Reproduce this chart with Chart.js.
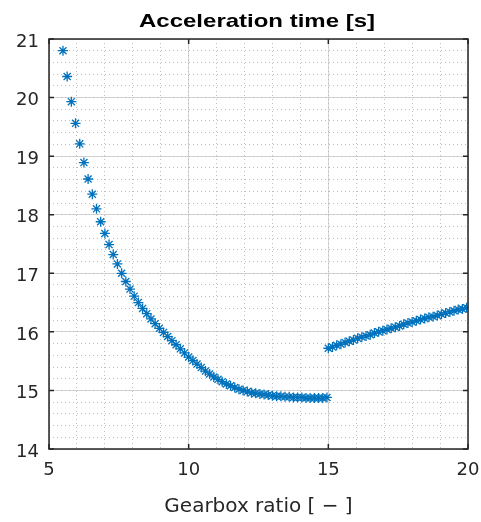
<!DOCTYPE html>
<html>
<head>
<meta charset="utf-8">
<script src="https://cdn.jsdelivr.net/npm/chart.js@4.4.1/dist/chart.umd.min.js"></script>
<style>
	body { margin: 0; background: #fff; }
</style>
</head>
<body>
<canvas id="accelChart" width="481" height="522"></canvas>
<script>
// gearbox ratio below 15
var ratioLow = [5.5, 5.65, 5.8, 5.95, 6.1, 6.25, 6.4, 6.55, 6.7, 6.85,
	7, 7.15, 7.3, 7.45, 7.6, 7.75, 7.9, 8.05, 8.2, 8.35,
	8.5, 8.65, 8.8, 8.95, 9.1, 9.25, 9.4, 9.55, 9.7, 9.85,
	10, 10.15, 10.3, 10.45, 10.6, 10.75, 10.9, 11.05, 11.2, 11.35,
	11.5, 11.65, 11.8, 11.95, 12.1, 12.25, 12.4, 12.55, 12.7, 12.85,
	13, 13.15, 13.3, 13.45, 13.6, 13.75, 13.9, 14.05, 14.2, 14.35,
	14.5, 14.65, 14.8, 14.95];
var timeLow = [20.80, 20.36, 19.93, 19.56, 19.21, 18.89, 18.61, 18.35, 18.10, 17.88,
	17.68, 17.49, 17.32, 17.16, 17.00, 16.86, 16.73, 16.61, 16.50, 16.40,
	16.31, 16.22, 16.14, 16.06, 15.99, 15.92, 15.85, 15.78, 15.71, 15.64,
	15.57, 15.51, 15.45, 15.39, 15.33, 15.28, 15.23, 15.19, 15.15, 15.11,
	15.08, 15.05, 15.02, 15.00, 14.98, 14.96, 14.95, 14.94, 14.93, 14.92,
	14.91, 14.90, 14.90, 14.89, 14.89, 14.88, 14.88, 14.88, 14.87, 14.87,
	14.87, 14.87, 14.87, 14.88];

// gearbox ratio from 15 up
var ratioHigh = [15, 15.15, 15.3, 15.45, 15.6, 15.75, 15.9, 16.05, 16.2, 16.35,
	16.5, 16.65, 16.8, 16.95, 17.1, 17.25, 17.4, 17.55, 17.7, 17.85,
	18, 18.15, 18.3, 18.45, 18.6, 18.75, 18.9, 19.05, 19.2, 19.35,
	19.5, 19.65, 19.8, 19.95];
var timeHigh = [15.72, 15.74, 15.77, 15.79, 15.82, 15.84, 15.86, 15.89, 15.91, 15.93,
	15.95, 15.98, 16.00, 16.02, 16.04, 16.06, 16.08, 16.10, 16.13, 16.15,
	16.17, 16.19, 16.21, 16.23, 16.25, 16.26, 16.28, 16.30, 16.32, 16.34,
	16.36, 16.38, 16.39, 16.41];

var xTicks = [5, 10, 15, 20];
var yTicks = [14, 15, 16, 17, 18, 19, 20, 21];

var chartTitle = 'Acceleration time [s]';
var xTitle = 'Gearbox ratio [ \u2212 ]';

var axisColor = '#262626';
var markerColor = '#0072BD';
var labelFont = '"DejaVu Sans", Verdana, sans-serif';
var titleFont = '"Liberation Sans", Arial, Helvetica, sans-serif';

function toPoints(xs, ys) {
	var pts = [];
	for (var i = 0; i < xs.length; i++) {
		pts.push({ x: xs[i], y: ys[i] });
	}
	return pts;
}

// box, inward ticks and title, matlab style
var boxPlugin = {
	id: 'boxPlugin',
	afterDraw: function (chart) {
		var ctx = chart.ctx;
		var a = chart.chartArea;
		var xs = chart.scales.x;
		var ys = chart.scales.y;
		ctx.save();
		ctx.strokeStyle = axisColor;
		ctx.lineWidth = 1.5;
		ctx.strokeRect(a.left, a.top, a.right - a.left, a.bottom - a.top);
		ctx.beginPath();
		xTicks.forEach(function (v) {
			var px = xs.getPixelForValue(v);
			ctx.moveTo(px, a.bottom); ctx.lineTo(px, a.bottom - 5);
			ctx.moveTo(px, a.top); ctx.lineTo(px, a.top + 5);
		});
		yTicks.forEach(function (v) {
			var py = ys.getPixelForValue(v);
			ctx.moveTo(a.left, py); ctx.lineTo(a.left + 5, py);
			ctx.moveTo(a.right, py); ctx.lineTo(a.right - 5, py);
		});
		ctx.stroke();

		// the title in the reference is a wide helvetica, so stretch it a bit
		ctx.translate((a.left + a.right) / 2 - 1.5, 27);
		ctx.scale(1.29, 1);
		ctx.fillStyle = '#000';
		ctx.font = 'bold 18.6px ' + titleFont;
		ctx.textAlign = 'center';
		ctx.textBaseline = 'alphabetic';
		ctx.fillText(chartTitle, 0, 0);
		ctx.restore();
	}
};

function markerSet(points) {
	return {
		data: points,
		pointStyle: 'star',
		pointRadius: 5,
		borderWidth: 1.3,
		borderColor: markerColor,
		backgroundColor: markerColor
	};
}

new Chart(document.getElementById('accelChart'), {
	type: 'scatter',
	data: {
		datasets: [markerSet(toPoints(ratioLow, timeLow)), markerSet(toPoints(ratioHigh, timeHigh))]
	},
	options: {
		responsive: false,
		animation: false,
		devicePixelRatio: 1,
		layout: { padding: { top: 39, right: 13, left: 0, bottom: 0 } },
		plugins: {
			legend: { display: false },
			tooltip: { enabled: false }
		},
		scales: {
			x: {
				type: 'linear',
				min: 5,
				max: 20,
				afterBuildTicks: function (axis) {
					axis.ticks = xTicks.map(function (v) { return { value: v }; });
				},
				afterFit: function (axis) {
					axis.height = 73;
					axis.paddingLeft = 0;
					axis.paddingRight = 0;
				},
				grid: { color: '#d6d6d6', lineWidth: 1, drawTicks: false },
				border: { display: false },
				ticks: {
					color: axisColor,
					padding: 11,
					font: { family: labelFont, size: 18 }
				},
				title: {
					display: true,
					text: xTitle,
					color: axisColor,
					padding: { top: 0, bottom: 3 },
					font: { family: labelFont, size: 20 }
				}
			},
			y: {
				type: 'linear',
				min: 14,
				max: 21,
				afterBuildTicks: function (axis) {
					axis.ticks = yTicks.map(function (v) { return { value: v }; });
				},
				afterFit: function (axis) {
					axis.width = 49;
					axis.paddingTop = 0;
					axis.paddingBottom = 0;
				},
				grid: { color: '#d6d6d6', lineWidth: 1, drawTicks: false },
				border: { display: false },
				ticks: {
					color: axisColor,
					padding: 10,
					labelOffset: 3,
					font: { family: labelFont, size: 18 }
				}
			},
			// dotted minor grid
			xMinor: {
				type: 'linear',
				position: 'bottom',
				min: 5,
				max: 20,
				z: -1,
				afterFit: function (axis) {
					axis.height = 0;
					axis.paddingLeft = 0;
					axis.paddingRight = 0;
				},
				grid: { color: '#bdbdbd', lineWidth: 1, drawTicks: false },
				border: { display: false, dash: [1, 3] },
				ticks: { display: false, stepSize: 1 }
			},
			yMinor: {
				type: 'linear',
				position: 'left',
				min: 14,
				max: 21,
				z: -1,
				afterFit: function (axis) { axis.width = 0; },
				grid: { color: '#bdbdbd', lineWidth: 1, drawTicks: false },
				border: { display: false, dash: [1, 3] },
				ticks: { display: false, stepSize: 0.2 }
			}
		}
	},
	plugins: [boxPlugin]
});
</script>
</body>
</html>
